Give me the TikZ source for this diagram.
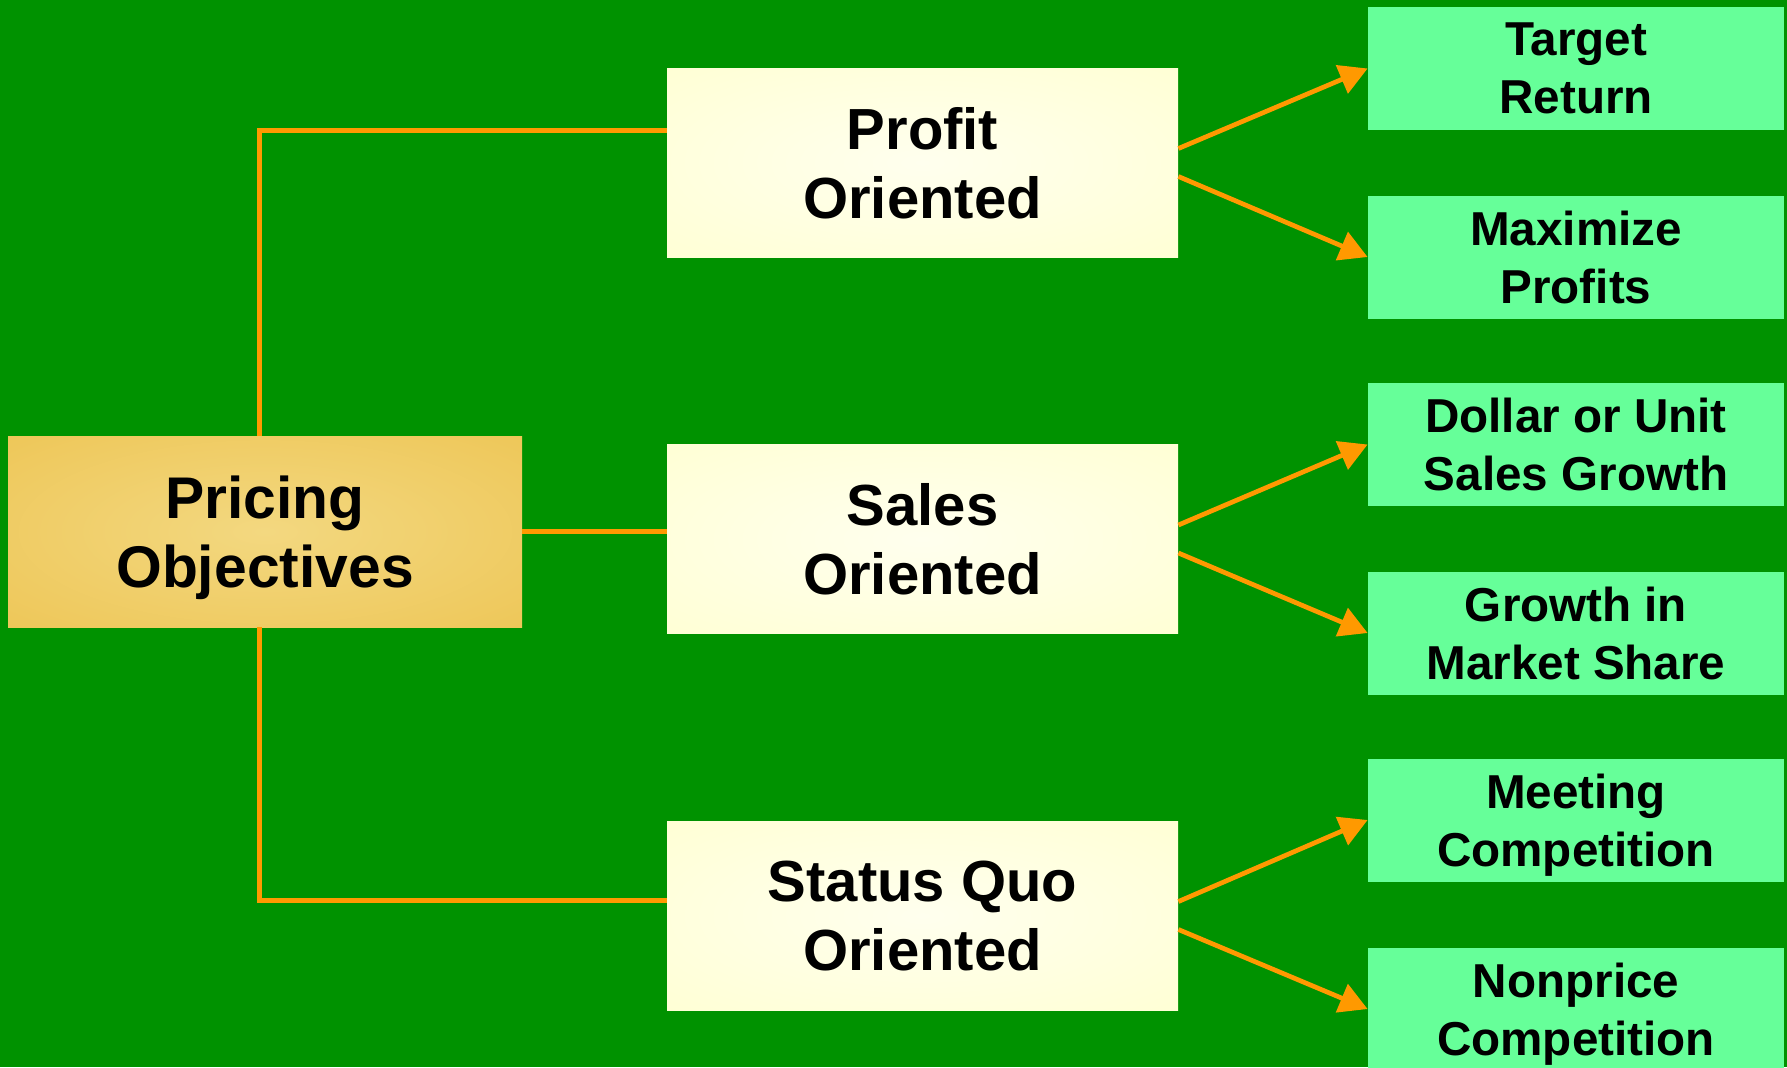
\documentclass[tikz,border=0pt]{standalone}
\usepackage{fontspec}
\setmainfont{Liberation Sans}
\usetikzlibrary{arrows.meta}
\definecolor{bggreen}{RGB}{0,146,0}
\definecolor{linkorange}{RGB}{255,153,0}
\definecolor{rootedge}{RGB}{236,193,75}
\definecolor{rootmid}{RGB}{243,216,128}
\definecolor{midedge}{RGB}{255,255,204}
\definecolor{midcentre}{RGB}{255,255,238}
\definecolor{leafgreen}{RGB}{102,255,153}
\pgfdeclareradialshading{rootglow}{\pgfpointorigin}{color(0bp)=(rootmid); color(48bp)=(rootedge); color(50bp)=(rootedge)}
\pgfdeclareradialshading{midglow}{\pgfpointorigin}{color(0bp)=(midcentre); color(48bp)=(midedge); color(50bp)=(midedge)}
\begin{document}
\begin{tikzpicture}[x=0.5pt,y=-0.5pt,
    rootstyle/.style={rectangle,shading=rootglow,minimum width=257pt,minimum height=95.5pt,inner sep=0pt,align=center,text depth=0pt,font=\fontsize{29.4}{34.5}\selectfont\bfseries},
    midstyle/.style={rectangle,shading=midglow,minimum width=255.5pt,minimum height=94.5pt,inner sep=0pt,align=center,text depth=0pt,font=\fontsize{29}{34.5}\selectfont\bfseries},
    leafstyle/.style={rectangle,fill=leafgreen,minimum width=208pt,minimum height=61.5pt,inner sep=0pt,align=center,text depth=0pt,font=\fontsize{23.8}{28.9}\selectfont\bfseries},
    link/.style={linkorange,line width=2.5pt},
    arrow/.style={linkorange,line width=2.35pt,-{Triangle[length=14pt,width=15pt]}}]
\fill[bggreen] (0,0) rectangle (1787,1067);
\useasboundingbox (0,0) rectangle (1787,1067);
\node[rootstyle](PO) at (265,531.5){Pricing\\Objectives};
\node[midstyle](PR) at (922.5,162.5){Profit\\Oriented};
\node[midstyle](SA) at (922.5,539){Sales\\Oriented};
\node[midstyle](SQ) at (922.5,915.5){Status Quo\\Oriented};
\node[leafstyle](TR) at (1576,68.5){Target\\Return};
\node[leafstyle](MP) at (1576,257){Maximize\\Profits};
\node[leafstyle](DU) at (1576,444.5){Dollar or Unit\\Sales Growth};
\node[leafstyle](GM) at (1576,633){Growth in\\Market Share};
\node[leafstyle](MC) at (1576,820){Meeting\\Competition};
\node[leafstyle](NC) at (1576,1009){Nonprice\\Competition};
\draw[link] ([xshift=-3pt]PO.north) |- ([yshift=16pt]PR.west);
\draw[link] (PO.east) -- (PO.east -| SA.west);
\draw[link] ([xshift=-3pt]PO.south) |- ([yshift=7.75pt]SQ.west);
\draw[arrow] ([yshift=7pt]PR.east) -- (TR.west);
\draw[arrow] ([yshift=-7pt]PR.east) -- (MP.west);
\draw[arrow] ([yshift=7pt]SA.east) -- (DU.west);
\draw[arrow] ([yshift=-7pt]SA.east) -- (GM.west);
\draw[arrow] ([yshift=7pt]SQ.east) -- (MC.west);
\draw[arrow] ([yshift=-7pt]SQ.east) -- (NC.west);
\end{tikzpicture}
\end{document}
